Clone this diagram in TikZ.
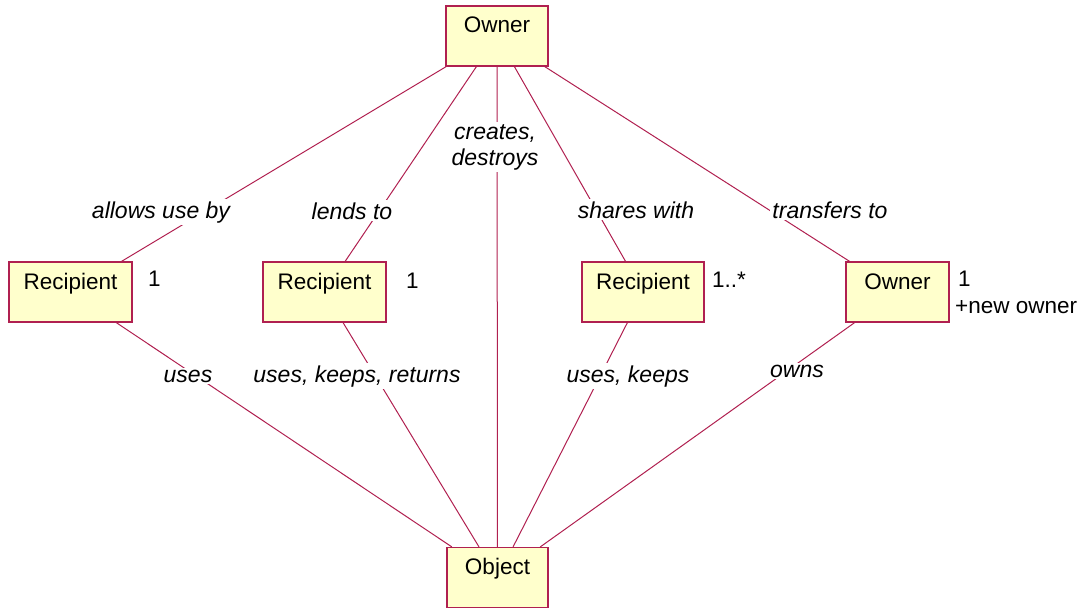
\documentclass[tikz,border=0pt]{standalone}
\usepackage{fontspec}
\setmainfont{Liberation Sans}
\definecolor{umlline}{RGB}{176,32,80}
\definecolor{umlfill}{RGB}{255,255,204}
\begin{document}
\begin{tikzpicture}[x=1pt,y=-1pt,
  classbox/.style={draw=umlline, fill=umlfill, line width=1.2pt,
    inner xsep=0pt, inner ysep=0pt, text height=27pt, text depth=33pt,
    font=\fontsize{22.5}{26}\selectfont},
  assoc/.style={draw=umlline, line width=1pt},
  rolelabel/.style={fill=white, inner sep=2pt, anchor=base, align=center,
    font=\fontsize{23}{26}\selectfont\itshape},
  mult/.style={inner sep=0pt, anchor=base west, font=\fontsize{22.5}{26}\selectfont}]
\useasboundingbox (0,0) rectangle (1085,610);
% classes
\node[classbox, minimum width=102pt] (owner) at (497,36) {Owner};
\node[classbox, minimum width=123pt] (recA) at (70.5,292) {Recipient};
\node[classbox, minimum width=123pt] (recB) at (324.5,292) {Recipient};
\node[classbox, minimum width=122pt] (recC) at (643,292) {Recipient};
\node[classbox, minimum width=103pt] (newowner) at (897.5,292) {Owner};
\node[classbox, minimum width=101pt] (object) at (497.5,577.5) {Object};
% associations
\draw[assoc] (owner) -- (recA);
\draw[assoc] (owner) -- (recB);
\draw[assoc] (owner) -- (object);
\draw[assoc] (owner) -- (recC);
\draw[assoc] (owner) -- (newowner);
\draw[assoc] (recA) -- (object);
\draw[assoc] (recB) -- (object);
\draw[assoc] (recC) -- (object);
\draw[assoc] (newowner) -- (object);
% association names (two-line labels sit on their last baseline)
\node[rolelabel] (lblallows) at (161,218) {allows use by};
\node[rolelabel] (lbllends) at (352,219) {lends to};
\node[rolelabel] (lblcreates) at (495,165) {creates,\\destroys};
\node[rolelabel] (lblshares) at (636,218) {shares with};
\node[rolelabel] (lbltransfers) at (830,218) {transfers to};
\node[rolelabel] (lbluses) at (188,382) {uses};
\node[rolelabel] (lblreturns) at (357,382) {uses, keeps, returns};
\node[rolelabel] (lblkeeps) at (628,382) {uses, keeps};
\node[rolelabel] (lblowns) at (797,377) {owns};
% multiplicities and role names
\node[mult] (multA) at (148,286) {1};
\node[mult] (multB) at (406,288) {1};
\node[mult] (multC) at (712,287) {1..*};
\node[mult] (multD) at (958,286) {1};
\node[mult] (rolenew) at (955,313) {+new owner};
\end{tikzpicture}
\end{document}
